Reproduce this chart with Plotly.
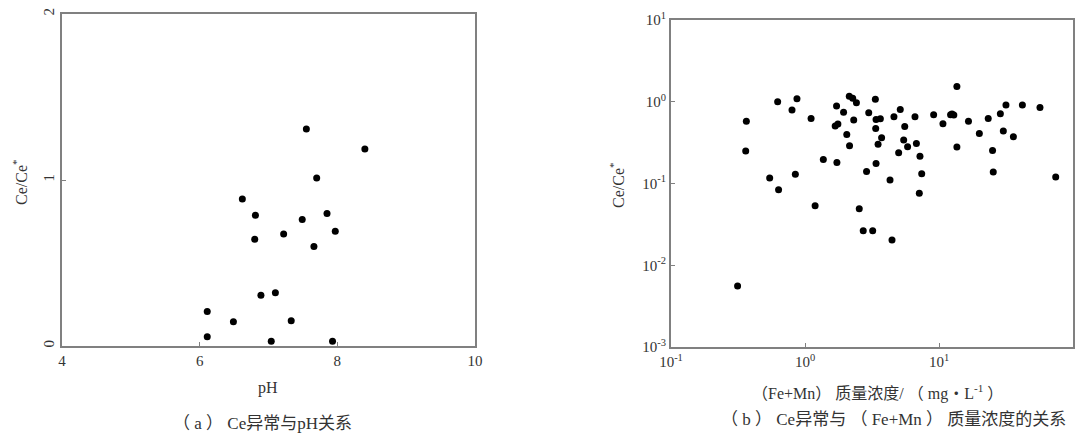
import plotly.graph_objects as go

# (a) pH vs Ce/Ce*
ph_values = [7.55, 8.40, 7.70, 6.62, 6.81, 7.49, 7.85, 7.97, 7.22, 6.80,
             7.66, 6.89, 7.10, 6.11, 6.49, 7.33, 6.11, 7.04, 7.93]
ce_a = [1.307, 1.186, 1.012, 0.886, 0.788, 0.762, 0.798, 0.691, 0.675, 0.643,
        0.599, 0.305, 0.321, 0.208, 0.146, 0.152, 0.056, 0.028, 0.028]

# (b) (Fe+Mn) mass concentration vs Ce/Ce*
femn = [0.314, 0.365, 0.361, 0.545, 0.635, 0.625, 0.80, 0.871, 0.847, 1.11,
        1.19, 1.37, 1.72, 1.68, 1.76, 1.94, 1.73, 2.05, 2.14, 2.27,
        2.42, 2.31, 2.15, 2.54, 2.72, 3.20, 2.88, 2.99, 3.35, 3.39,
        3.65, 3.37, 3.73, 3.51, 3.39, 4.31, 4.46, 4.61, 5.14, 5.55,
        5.45, 5.00, 5.83, 6.62, 6.78, 7.21, 7.43, 7.13, 9.12, 10.7,
        12.2, 12.9, 13.6, 13.6, 16.6, 20.0, 23.3, 25.1, 25.4, 28.7,
        31.6, 30.2, 35.9, 41.9, 56.7, 74.3, 12.5]
ce_b = [0.00558, 0.579, 0.249, 0.117, 0.0836, 1.0, 0.79, 1.09, 0.13, 0.625,
        0.0533, 0.197, 0.885, 0.504, 0.533, 0.746, 0.181, 0.398, 1.17, 1.10,
        0.973, 0.597, 0.289, 0.049, 0.0265, 0.0265, 0.140, 0.733, 1.07, 0.608,
        0.619, 0.471, 0.362, 0.303, 0.176, 0.110, 0.0204, 0.655, 0.805, 0.499,
        0.340, 0.238, 0.281, 0.655, 0.309, 0.216, 0.132, 0.0762, 0.693, 0.538,
        0.693, 0.687, 1.54, 0.279, 0.579, 0.409, 0.625, 0.254, 0.138, 0.713,
        0.910, 0.438, 0.372, 0.910, 0.853, 0.120, 0.708]

a_xticks = [4, 6, 8, 10]
a_yticks = [0, 1, 2]
b_xticks = [0.1, 1, 10, 100]
b_xlabels = ["10<sup>-1</sup>", "10<sup>0</sup>", "10<sup>1</sup>", "10<sup>2</sup>"]
b_yticks = [0.001, 0.01, 0.1, 1, 10]
b_ylabels = ["10<sup>-3</sup>", "10<sup>-2</sup>", "10<sup>-1</sup>", "10<sup>0</sup>", "10<sup>1</sup>"]

FONT = "Liberation Serif, Noto Sans CJK SC, serif"
TXT = "#333333"
LINE = "#808080"

# page body has an 8px default margin: size the figure so the page is 1087x441
OFF = 8
W, H = 1087 - 2 * OFF, 441 - 2 * OFF


def px(x):
    return (x - OFF) / W


def py(y):
    return 1 - (y - OFF) / H


fig = go.Figure()

marker = dict(color="black", size=7, line=dict(width=0))
fig.add_trace(go.Scatter(x=ph_values, y=ce_a, mode="markers", marker=marker,
                         xaxis="x", yaxis="y", showlegend=False))
fig.add_trace(go.Scatter(x=femn, y=ce_b, mode="markers", marker=marker,
                         xaxis="x2", yaxis="y2", showlegend=False))

axis_common = dict(showline=True, mirror=True, linecolor=LINE, linewidth=2,
                   showgrid=False, zeroline=False, ticks="inside", ticklen=4,
                   tickcolor=LINE, automargin=False,
                   tickfont=dict(family=FONT, size=15, color=TXT))

fig.update_layout(
    template="none",
    width=W, height=H,
    margin=dict(l=0, r=0, t=0, b=0, autoexpand=False),
    paper_bgcolor="white", plot_bgcolor="white",
    xaxis=dict(domain=[px(62), px(475)], range=[4, 10], tickvals=a_xticks,
               anchor="y", **axis_common),
    yaxis=dict(domain=[py(346), py(14)], range=[0, 2], tickvals=a_yticks,
               tickangle=-90, anchor="x", **axis_common),
    xaxis2=dict(domain=[px(671), px(1073)], type="log", range=[-1, 2],
                tickvals=b_xticks, ticktext=b_xlabels, anchor="y2", **axis_common),
    yaxis2=dict(domain=[py(347), py(20)], type="log", range=[-3, 1],
                tickvals=b_yticks, ticktext=b_ylabels, anchor="x2", **axis_common),
)


def ann(text, x, y, size=17, angle=0):
    fig.add_annotation(text=text, x=px(x), y=py(y), xref="paper", yref="paper",
                       showarrow=False, textangle=angle,
                       font=dict(family=FONT, size=size, color=TXT),
                       xanchor="center", yanchor="middle")


ann("Ce/Ce<sup>*</sup>", 20, 182, size=16, angle=-90)
ann("pH", 268, 388, size=16)
ann("（ a ） Ce异常与pH关系", 262, 423)
ann("Ce/Ce<sup>*</sup>", 617, 185, size=16, angle=-90)
ann("（Fe+Mn） 质量浓度/ （ mg・L<sup>-1</sup> ）", 877, 392, size=16)
ann("（ b ） Ce异常与 （ Fe+Mn ） 质量浓度的关系", 893, 419)

fig.write_html("out.html")
